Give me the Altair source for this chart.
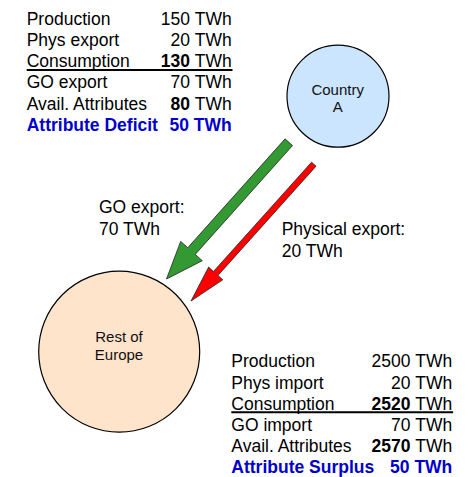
import math
import altair as alt
import pandas as pd

# ---------------- data ----------------
country_rows = ["Production", "Phys export", "Consumption", "GO export",
                "Avail. Attributes", "Attribute Deficit"]
country_vals = [150, 20, 130, 70, 80, 50]
europe_rows = ["Production", "Phys import", "Consumption", "GO import",
               "Avail. Attributes", "Attribute Surplus"]
europe_vals = [2500, 20, 2520, 70, 2570, 50]
bold_value_rows = [2, 4]          # rows whose number is bold
unit = "TWh"
node_names = [["Country", "A"], ["Rest of", "Europe"]]
flow_labels = [["GO export:", "70 TWh"], ["Physical export:", "20 TWh"]]

# ---------------- layout / style ----------------
W, H = 457, 469
X0, Y0 = 8, 8
FONT = "Liberation Sans"
FS = 17.5
STEP = 21.2
BLUE = "#0000CC"

tables = [
    dict(rows=country_rows, vals=country_vals, left=26.7, right=231.7, base=24.8, line_y=70.0),
    dict(rows=europe_rows, vals=europe_vals, left=231.3, right=452.3, base=367.3, line_y=412.3),
]
nodes = [
    dict(cx=338.0, cy=96.2, r=51.0, fill="#CCE5FF", tx=337.7, ty=[95.0, 112.3]),
    dict(cx=119.2, cy=351.7, r=80.5, fill="#FFE4CC", tx=119.0, ty=[342.3, 359.5]),
]
arrows = [
    dict(tail=(288.8, 142.2), tip=(166.5, 279.0), sw=10, hw=29, hl=37.5, color="#339933"),
    dict(tail=(313.8, 164.2), tip=(191.0, 301.0), sw=6, hw=19, hl=37.0, color="#FF0000"),
]
flow_pos = [dict(x=99.0, y=[213.3, 235.0]), dict(x=281.7, y=[235.0, 256.7])]

xs = alt.Scale(domain=[X0, X0 + W], nice=False, zero=False)
ys = alt.Scale(domain=[Y0, Y0 + H], nice=False, zero=False, reverse=True)


def XE(f):
    return alt.X(f, type="quantitative", scale=xs, axis=None)


def YE(f):
    return alt.Y(f, type="quantitative", scale=ys, axis=None)


# ---------------- build tables ----------------
unit_w = (278 + 611 + 944 + 556) / 1000 * FS
unit_w_bold = (278 + 611 + 944 + 611) / 1000 * FS
text_rows = []
for t in tables:
    n = len(t["rows"])
    for i, (lab, v) in enumerate(zip(t["rows"], t["vals"])):
        y = t["base"] + STEP * i
        last = i == n - 1
        color = BLUE if last else "#000000"
        text_rows.append(dict(x=t["left"], y=y, t=lab, al="left",
                              wt="bold" if last else "normal", c=color))
        uw = unit_w_bold if last else unit_w
        text_rows.append(dict(x=t["right"] - uw, y=y, t=str(v), al="right",
                              wt="bold" if (last or i in bold_value_rows) else "normal", c=color))
        text_rows.append(dict(x=t["right"], y=y, t=unit, al="right",
                              wt="bold" if last else "normal", c=color))
for fl, fp in zip(flow_labels, flow_pos):
    for s, y in zip(fl, fp["y"]):
        text_rows.append(dict(x=fp["x"], y=y, t=s, al="left", wt="normal", c="#000000"))
tdf = pd.DataFrame(text_rows)

text_layers = []
for al in ["left", "right"]:
    for wt in ["normal", "bold"]:
        sub = tdf[(tdf["al"] == al) & (tdf["wt"] == wt)]
        if len(sub) == 0:
            continue
        text_layers.append(
            alt.Chart(sub).mark_text(align=al, baseline="alphabetic", font=FONT,
                                     fontSize=FS, fontWeight=wt)
            .encode(x=XE("x"), y=YE("y"), text="t:N", color=alt.Color("c:N", scale=None))
        )

# underlines
ul = pd.DataFrame([dict(x=t["left"], x2=t["right"] + 0.8, y=t["line_y"]) for t in tables])
rules = alt.Chart(ul).mark_rule(color="#000000", strokeWidth=2).encode(
    x=XE("x"), x2="x2:Q", y=YE("y"))

# nodes (Vega circle symbol: size = (2r)^2)
ndf = pd.DataFrame([dict(x=nd["cx"], y=nd["cy"], s=(2 * nd["r"]) ** 2, f=nd["fill"]) for nd in nodes])
circles = alt.Chart(ndf).mark_point(shape="circle", filled=True, opacity=1, stroke="#000000",
                                    strokeWidth=1.2).encode(
    x=XE("x"), y=YE("y"), size=alt.Size("s:Q", scale=None), color=alt.Color("f:N", scale=None))
nt = []
for nd, names in zip(nodes, node_names):
    for s, y in zip(names, nd["ty"]):
        nt.append(dict(x=nd["tx"], y=y, t=s))
node_text = alt.Chart(pd.DataFrame(nt)).mark_text(
    align="center", baseline="alphabetic", font=FONT, fontSize=15, color="#111111").encode(
    x=XE("x"), y=YE("y"), text="t:N")


# arrows as polygons
def arrow_poly(a):
    (tx, ty), (px, py) = a["tail"], a["tip"]
    dx, dy = px - tx, py - ty
    L = math.hypot(dx, dy)
    ux, uy = dx / L, dy / L
    nx, ny = -uy, ux
    bx, by = px - ux * a["hl"], py - uy * a["hl"]
    sw, hw = a["sw"] / 2, a["hw"] / 2
    pts = [
        (tx + nx * sw, ty + ny * sw),
        (bx + nx * sw, by + ny * sw),
        (bx + nx * hw, by + ny * hw),
        (px, py),
        (bx - nx * hw, by - ny * hw),
        (bx - nx * sw, by - ny * sw),
        (tx - nx * sw, ty - ny * sw),
    ]
    pts.append(pts[0])
    return pd.DataFrame([dict(x=x, y=y, i=k) for k, (x, y) in enumerate(pts)])


arrow_layers = []
for a in arrows:
    arrow_layers.append(
        alt.Chart(arrow_poly(a)).mark_line(fill=a["color"], stroke="#222222", strokeWidth=0.8,
                                           strokeJoin="miter")
        .encode(x=XE("x"), y=YE("y"), order="i:Q")
    )

chart = alt.layer(circles, node_text, *arrow_layers, rules, *text_layers).properties(
    width=W, height=H, padding=0, autosize="none", background="white"
).configure_view(strokeWidth=0)

chart.save("out.html", embed_options={"renderer": "svg", "actions": False})
